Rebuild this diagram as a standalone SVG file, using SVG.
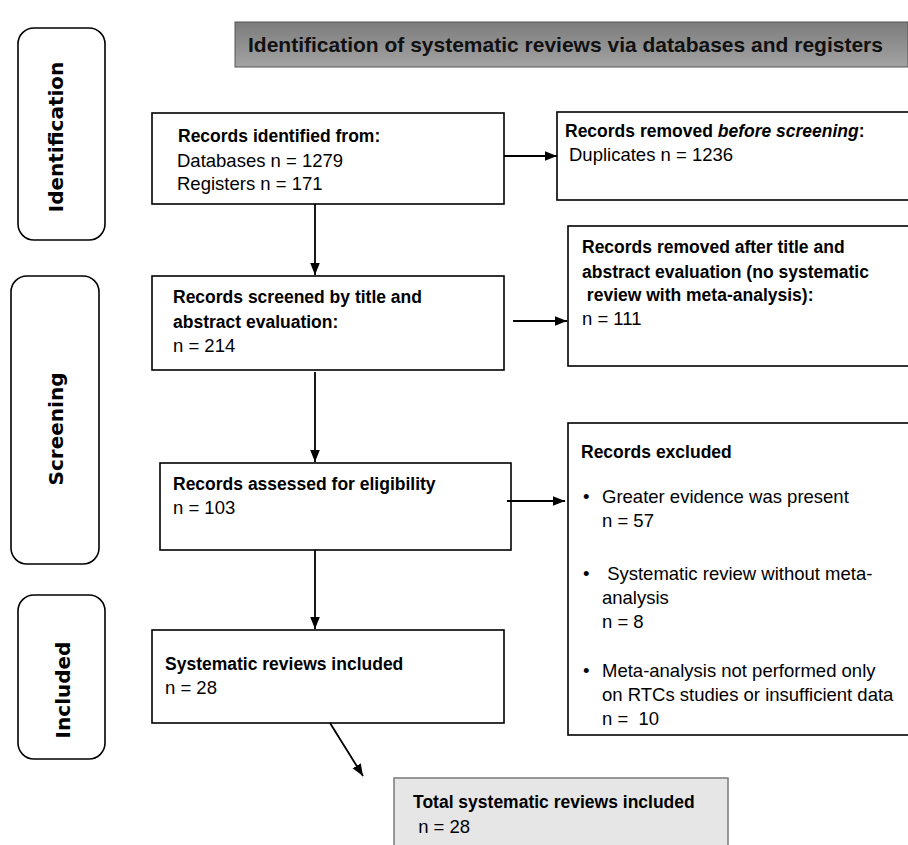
<svg xmlns="http://www.w3.org/2000/svg" width="908" height="845" viewBox="0 0 908 845">
<defs>
  <marker id="ah" markerUnits="userSpaceOnUse" markerWidth="12" markerHeight="12" viewBox="0 0 10 10" refX="10" refY="5" orient="auto">
    <path d="M0,1 L10,5 L0,9 Z" fill="#000"/>
  </marker>
  <linearGradient id="tg" x1="0" y1="0" x2="0" y2="1">
    <stop offset="0" stop-color="#7c7c7c"/>
    <stop offset="1" stop-color="#a3a3a3"/>
  </linearGradient>
</defs>
<style>
  .box{fill:#fff;stroke:#000;stroke-width:1.6}
  .lab{fill:#fff;stroke:#000;stroke-width:1.6}
  .t{font-family:"Liberation Sans",Arial,sans-serif;font-size:18.5px;fill:#000}
  .b{font-family:"Liberation Sans",Arial,sans-serif;font-size:17.5px;font-weight:bold;fill:#000}
  .v{font-family:"DejaVu Sans",Verdana,sans-serif;font-size:20px;font-weight:bold;fill:#000;text-anchor:middle}
  .c{stroke:#000;fill:none;marker-end:url(#ah)}
</style>
<rect width="908" height="845" fill="#fff"/>

<g id="title">
  <rect x="235" y="22" width="673" height="45" fill="url(#tg)" stroke="#555" stroke-width="1"/>
  <text x="248" y="52" class="b" style="font-size:21px;fill:#111">Identification of systematic reviews via databases and registers</text>
</g>

<g id="phase-identification">
  <rect class="lab" x="18" y="28" width="87" height="212" rx="16"/>
  <text class="v" transform="translate(63,137) rotate(-90)">Identification</text>
</g>
<g id="phase-screening">
  <rect class="lab" x="11" y="276" width="88" height="288" rx="16"/>
  <text class="v" transform="translate(63,429) rotate(-90)">Screening</text>
</g>
<g id="phase-included">
  <rect class="lab" x="18" y="595" width="87" height="164" rx="16"/>
  <text class="v" transform="translate(70,690) rotate(-90)">Included</text>
</g>

<g id="records-identified">
  <rect class="box" x="152" y="113" width="352" height="91"/>
  <text x="178" y="142" class="b">Records identified from:</text>
  <text x="177" y="167" class="t">Databases n = 1279</text>
  <text x="177" y="190" class="t">Registers n = 171</text>
</g>

<g id="records-removed-before">
  <rect class="box" x="557" y="112" width="352" height="88"/>
  <text x="565" y="137" class="b">Records removed <tspan font-style="italic">before screening</tspan>:</text>
  <text x="569" y="161" class="t">Duplicates n = 1236</text>
</g>

<g id="records-screened">
  <rect class="box" x="152" y="276" width="352" height="94"/>
  <text x="173" y="303" class="b">Records screened by title and</text>
  <text x="173" y="328" class="b">abstract evaluation:</text>
  <text x="173" y="352" class="t">n = 214</text>
</g>

<g id="records-removed-after">
  <rect class="box" x="568" y="226" width="342" height="140"/>
  <text x="582" y="253" class="b">Records removed after title and</text>
  <text x="582" y="278" class="b">abstract evaluation (no systematic</text>
  <text x="582" y="301" class="b" xml:space="preserve"> review with meta-analysis):</text>
  <text x="582" y="325" class="t">n = 111</text>
</g>

<g id="records-assessed">
  <rect class="box" x="160" y="463" width="351" height="87"/>
  <text x="173" y="490" class="b">Records assessed for eligibility</text>
  <text x="173" y="514" class="t">n = 103</text>
</g>

<g id="records-excluded">
  <rect class="box" x="568" y="423" width="342" height="312"/>
  <text x="581" y="458" class="b">Records excluded</text>
  <text x="583" y="503" class="t">•</text>
  <text x="602" y="503" class="t">Greater evidence was present</text>
  <text x="602" y="527" class="t">n = 57</text>
  <text x="583" y="580" class="t">•</text>
  <text x="602" y="580" class="t" xml:space="preserve"> Systematic review without meta-</text>
  <text x="602" y="604" class="t">analysis</text>
  <text x="602" y="628" class="t">n = 8</text>
  <text x="583" y="677" class="t">•</text>
  <text x="602" y="677" class="t">Meta-analysis not performed only</text>
  <text x="602" y="701" class="t">on RTCs studies or insufficient data</text>
  <text x="602" y="725" class="t" xml:space="preserve">n =  10</text>
</g>

<g id="systematic-reviews-included">
  <rect class="box" x="152" y="630" width="352" height="93"/>
  <text x="165" y="670" class="b">Systematic reviews included</text>
  <text x="165" y="694" class="t">n = 28</text>
</g>

<g id="total-included">
  <rect x="394" y="778" width="334" height="80" fill="#e6e6e6" stroke="#7a7a7a" stroke-width="1.5"/>
  <text x="413" y="808" class="b">Total systematic reviews included</text>
  <text x="413" y="833" class="t" xml:space="preserve"> n = 28</text>
</g>

<g id="connectors">
  <line class="c" x1="504" y1="156" x2="557" y2="156" stroke-width="2.2"/>
  <line class="c" x1="315" y1="204" x2="315" y2="275" stroke-width="1.8"/>
  <line class="c" x1="513" y1="321" x2="567" y2="321" stroke-width="2.2"/>
  <line class="c" x1="315" y1="372" x2="315" y2="462" stroke-width="1.8"/>
  <line class="c" x1="507" y1="501" x2="565" y2="501" stroke-width="2.2"/>
  <line class="c" x1="315" y1="550" x2="315" y2="629" stroke-width="1.8"/>
  <line class="c" x1="330" y1="723" x2="363" y2="776" stroke-width="1.8"/>
</g>
</svg>
